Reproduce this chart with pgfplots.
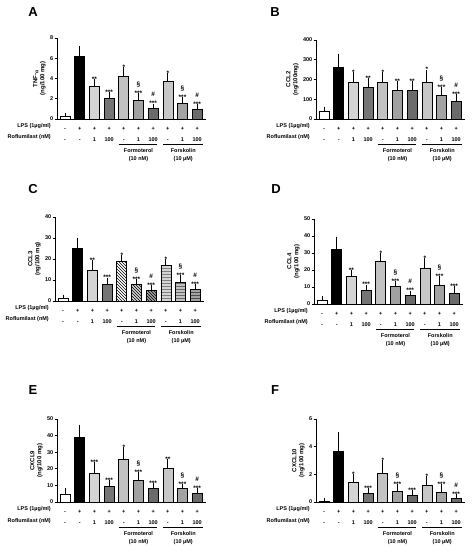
\documentclass[border=0pt]{standalone}
\usepackage{fontspec}
\setmainfont{Liberation Sans}
\usepackage{pgfplots}
\pgfplotsset{compat=1.18}
\usepackage{pgfplotstable}
\usetikzlibrary{patterns}

\newcommand\ticklabfont{\fontsize{5.5}{6.5}\selectfont\bfseries}
\newcommand\ylabfont{\fontsize{6}{7}\selectfont\bfseries}
\newcommand\sigfont{\fontsize{6.5}{6.5}\selectfont\bfseries}
\newcommand\grpfont{\fontsize{5.5}{8}\selectfont\bfseries}
\newcommand\letterfont{\fontsize{13}{13}\selectfont\bfseries}

\definecolor{c2}{gray}{0.83}
\definecolor{c3}{gray}{0.46}
\definecolor{c4}{gray}{0.76}
\definecolor{c5}{gray}{0.63}
\definecolor{c6}{gray}{0.42}
\definecolor{c7}{gray}{0.78}
\definecolor{c8}{gray}{0.64}
\definecolor{c9}{gray}{0.42}

\pgfplotstableread{
x y e s h
0 0.30 0.10 {} {}
1 6.18 0.80 {} {}
2 3.20 0.55 ** {}
3 2.00 0.45 *** {}
4 4.20 0.65 * {}
5 1.88 0.45 *** \S
6 1.02 0.27 *** \#
7 3.73 0.60 * {}
8 1.52 0.43 *** \S
9 0.93 0.30 *** \#
}\tA
\pgfplotstableread{
x y e s h
0 40 11 {} {}
1 260 59 {} {}
2 186 40 * {}
3 162 35 ** {}
4 186 40 * {}
5 145 36 ** {}
6 144 35 ** {}
7 186 52 * {}
8 118 32 *** \S
9 91 25 *** \#
}\tB
\pgfplotstableread{
x y e s h
0 1.3 0.6 {} {}
1 25.1 3.8 {} {}
2 14.6 3.8 ** {}
3 8.1 1.9 *** {}
4 19.0 1.6 * {}
5 7.9 1.5 *** \S
6 5.1 1.2 *** \#
7 17.0 1.9 * {}
8 9.0 2.3 *** \S
9 5.6 1.5 *** \#
}\tC
\pgfplotstableread{
x y e s h
0 2.3 1.0 {} {}
1 32.2 6.0 {} {}
2 16.1 2.5 ** {}
3 8.2 1.8 *** {}
4 25.1 3.7 * {}
5 10.2 1.8 *** \S
6 5.3 1.2 *** \#
7 21.0 4.7 * {}
8 11.2 3.9 *** \S
9 6.5 2.9 *** {}
}\tD
\pgfplotstableread{
x y e s h
0 4.4 2.6 {} {}
1 38.8 6.2 {} {}
2 17.2 5.2 *** {}
3 9.4 2.4 *** {}
4 26.0 5.8 * {}
5 12.8 4.0 *** \S
6 8.2 2.0 *** {}
7 20.4 4.0 ** {}
8 8.2 1.4 *** \S
9 5.4 1.4 *** \#
}\tE
\pgfplotstableread{
x y e s h
0 0.07 0.02 {} {}
1 3.67 1.23 {} {}
2 1.40 0.45 * {}
3 0.62 0.22 *** {}
4 2.06 0.82 * {}
5 0.79 0.34 *** \S
6 0.48 0.19 *** {}
7 1.22 0.48 * {}
8 0.67 0.43 *** \S
9 0.29 0.14 *** \#
}\tF

\pgfplotsset{
 panel/.style={scale only axis, width=149pt, anchor=south west,
  xmin=-0.55, xmax=9.6, ymin=0, clip=false,
  axis x line*=bottom, axis y line*=left,
  axis line style={line width=0.8pt, -},
  tick align=outside, major tick length=2.5pt,
  ytick style={line width=0.8pt, black},
  xtick style={draw=none},
  xtick={0,...,9}, xticklabels={-,+,+,+,+,+,+,+,+,+},
  extra x ticks={0,...,9}, extra x tick labels={-,-,1,100,-,1,100,-,1,100},
  extra x tick style={xticklabel style={yshift=-11pt}},
  xticklabel style={anchor=base, yshift=-9pt, font=\ticklabfont, inner sep=0pt},
  yticklabel style={font=\ticklabfont, inner sep=1pt},
  /pgf/number format/assume math mode=true,
  ylabel style={font=\ylabfont, align=center},
 },
 mybar/.style={ybar, bar width=10pt, bar shift=0pt, draw=black, line width=0.6pt,
  error bars/y dir=plus, error bars/y explicit,
  error bars/error bar style={line width=0.9pt, black},
  error bars/error mark options={line width=0.9pt, black, mark size=2.4pt}},
 b0/.style={fill=white}, b1/.style={fill=black},
 b2/.style={fill=c2}, b3/.style={fill=c3}, b4/.style={fill=c4},
 b5/.style={fill=c5}, b6/.style={fill=c6}, b7/.style={fill=c7},
 b8/.style={fill=c8}, b9/.style={fill=c9},
}

\newcommand\bars[1]{%
 \pgfplotsinvokeforeach{0,...,9}{\addplot[mybar, b##1, restrict x to domain=##1:##1] table[x=x,y=y,y error=e]{#1};}
 \addplot[draw=none, mark=none, point meta=explicit symbolic, nodes near coords={\pgfplotspointmeta},
   nodes near coords style={font=\sigfont, anchor=base, inner sep=0pt, yshift=0pt}]
   table[x=x, y expr=\thisrow{y}+\thisrow{e}, meta=s]{#1};
 \addplot[draw=none, mark=none, point meta=explicit symbolic, nodes near coords={\pgfplotspointmeta},
   nodes near coords style={font=\sigfont, anchor=base, inner sep=0pt, yshift=9pt}]
   table[x=x, y expr=\thisrow{y}+\thisrow{e}, meta=h]{#1};
 \draw[line width=0.6pt] ([yshift=-25pt]axis cs:3.64,0) -- ([yshift=-25pt]axis cs:6.29,0);
 \draw[line width=0.6pt] ([yshift=-25pt]axis cs:6.70,0) -- ([yshift=-25pt]axis cs:9.42,0);
 \node[anchor=north, align=center, font=\grpfont, inner sep=0pt] at ([yshift=-29pt]axis cs:5,0) {Formoterol\\(10 nM)};
 \node[anchor=north, align=center, font=\grpfont, inner sep=0pt] at ([yshift=-29pt]axis cs:8.05,0) {Forskolin\\(10 µM)};
 \node[anchor=base east, font=\ticklabfont, inner sep=0pt] at ([xshift=-6pt, yshift=-9pt]rel axis cs:0,0) {LPS (1µg/ml)};
 \node[anchor=base east, font=\ticklabfont, inner sep=0pt] at ([xshift=-6pt, yshift=-20pt]rel axis cs:0,0) {Roflumilast (nM)};
}

\begin{document}
\begin{tikzpicture}
\useasboundingbox (0,0) rectangle (474pt,551pt);
\node[font=\letterfont] at (33pt,539pt) {A};
\node[font=\letterfont] at (275pt,539pt) {B};
\node[font=\letterfont] at (33pt,362pt) {C};
\node[font=\letterfont] at (276pt,362pt) {D};
\node[font=\letterfont] at (33pt,161pt) {E};
\node[font=\letterfont] at (275pt,161pt) {F};

\begin{axis}[panel, at={(57pt,432pt)}, height=81pt, ymax=8, ytick={0,2,4,6,8},
  ylabel={TNF-\textsubscript{α}\\(ng/100 mg)}]
\bars{\tA}
\end{axis}

\begin{axis}[panel, at={(316pt,432pt)}, height=79pt, ymax=400, ytick={0,100,200,300,400},
  ylabel={CCL2\\(ng/100mg)}]
\bars{\tB}
\end{axis}

\begin{axis}[panel, at={(55pt,250pt)}, height=84pt, ymax=40, ytick={0,10,20,30,40},
  ylabel={CCL3\\(ng/100 mg)},
  b4/.style={fill=white, postaction={pattern=north west lines}},
  b5/.style={fill=c2, postaction={pattern=north west lines}},
  b6/.style={fill=c5, postaction={pattern=north west lines}},
  b7/.style={fill=c2, postaction={pattern=horizontal lines, pattern color=gray}},
  b8/.style={fill=c4, postaction={pattern=horizontal lines, pattern color=black!60}},
  b9/.style={fill=c5, postaction={pattern=horizontal lines, pattern color=black!70}}]
\bars{\tC}
\end{axis}

\begin{axis}[panel, at={(314pt,247pt)}, height=85pt, ymax=50, ytick={0,10,20,30,40,50},
  ylabel={CCL4\\(ng/100 mg)}]
\bars{\tD}
\end{axis}

\begin{axis}[panel, at={(57pt,49pt)}, height=83pt, ymax=50, ytick={0,10,20,30,40,50},
  ylabel={CXCL9\\(ng/100 mg)}]
\bars{\tE}
\end{axis}

\begin{axis}[panel, at={(316pt,49pt)}, height=83pt, ymax=6, ytick={0,2,4,6},
  ylabel={CXCL10\\(ng/100 mg)}]
\bars{\tF}
\end{axis}
\end{tikzpicture}
\end{document}
